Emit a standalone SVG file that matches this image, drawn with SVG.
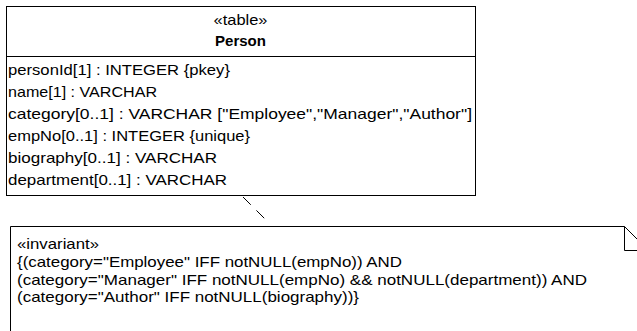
<svg xmlns="http://www.w3.org/2000/svg" width="637" height="331" viewBox="0 0 637 331">
<style>
text{font-family:"Liberation Sans",Arial,sans-serif;font-size:15px;fill:#000}
.b{font-weight:bold}
.c{text-anchor:middle}
.ln{fill:none;stroke:#000;stroke-width:1}
</style>
<rect width="637" height="331" fill="#fff"/>
<g id="Person">
<rect class="ln" x="6.5" y="6.5" width="469" height="189"/>
<line class="ln" x1="6.5" y1="56.5" x2="475.5" y2="56.5"/>
<text class="c" x="240.5" y="25" textLength="54" lengthAdjust="spacingAndGlyphs">«table»</text>
<text class="c b" x="240.5" y="46" textLength="51" lengthAdjust="spacingAndGlyphs">Person</text>
<text x="8" y="75" textLength="222" lengthAdjust="spacingAndGlyphs">personId[1] : INTEGER {pkey}</text>
<text x="8" y="97" textLength="149" lengthAdjust="spacingAndGlyphs">name[1] : VARCHAR</text>
<text x="8" y="119" textLength="464" lengthAdjust="spacingAndGlyphs">category[0..1] : VARCHAR ["Employee","Manager","Author"]</text>
<text x="8" y="141" textLength="242" lengthAdjust="spacingAndGlyphs">empNo[0..1] : INTEGER {unique}</text>
<text x="8" y="163" textLength="209" lengthAdjust="spacingAndGlyphs">biography[0..1] : VARCHAR</text>
<text x="8" y="185" textLength="219" lengthAdjust="spacingAndGlyphs">department[0..1] : VARCHAR</text>
</g>
<g id="connectors">
<line class="ln" x1="243" y1="197" x2="268" y2="222" stroke-dasharray="11,8"/>
</g>
<g id="invariant">
<path class="ln" d="M10.5,340 V226.5 H624.5 L650,252"/>
<path class="ln" d="M624.5,226.5 V250.5 H650"/>
<text x="17" y="249" textLength="82" lengthAdjust="spacingAndGlyphs">«invariant»</text>
<text x="17" y="267" textLength="385" lengthAdjust="spacingAndGlyphs">{(category="Employee" IFF notNULL(empNo)) AND</text>
<text x="17" y="285" textLength="570" lengthAdjust="spacingAndGlyphs">(category="Manager" IFF notNULL(empNo) &amp;&amp; notNULL(department)) AND</text>
<text x="17" y="302" textLength="342" lengthAdjust="spacingAndGlyphs">(category="Author" IFF notNULL(biography))}</text>
</g>
</svg>
